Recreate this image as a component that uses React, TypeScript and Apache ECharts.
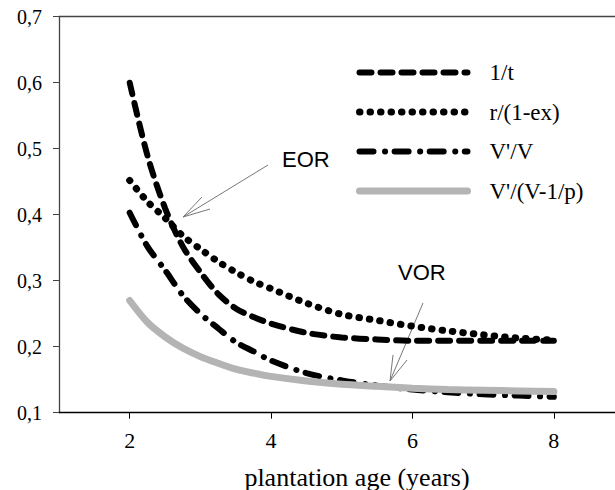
import React, { useEffect, useRef } from "react";
import * as echarts from "echarts";

const ages = [2, 2.25, 2.5, 2.75, 3, 3.25, 3.5, 3.75, 4, 4.5, 5, 5.5, 6, 6.5, 7, 7.5, 8];
const invT = [0.6, 0.49, 0.41, 0.352, 0.313, 0.28, 0.258, 0.245, 0.235, 0.221, 0.214, 0.211, 0.209, 0.209, 0.209, 0.209, 0.209];
const rEx = [0.452, 0.42, 0.395, 0.368, 0.348, 0.329, 0.313, 0.299, 0.288, 0.266, 0.249, 0.24, 0.231, 0.224, 0.218, 0.213, 0.21];
const vV = [0.403, 0.352, 0.316, 0.278, 0.25, 0.228, 0.207, 0.193, 0.179, 0.16, 0.149, 0.141, 0.135, 0.131, 0.128, 0.126, 0.124];
const vVp = [0.27, 0.237, 0.215, 0.198, 0.185, 0.175, 0.166, 0.16, 0.155, 0.148, 0.143, 0.14, 0.137, 0.135, 0.134, 0.133, 0.132];
const seriesNames = ["1/t", "r/(1-ex)", "V'/V", "V'/(V-1/p)"];
const xTicks = [2, 4, 6, 8];

const pairs = (ys: number[]) => ages.map((a, i) => [a, ys[i]]);

export default function App() {
  const ref = useRef<HTMLDivElement>(null);
  useEffect(() => {
    document.body.style.margin = "0";
    const chart = echarts.init(ref.current!, null, { renderer: "svg" });
    const serif = "'Liberation Serif', 'Times New Roman', serif";
    const sans = "'Liberation Sans', Arial, sans-serif";
    const arrow = "#777777";
    chart.setOption({
      animation: false,
      grid: { left: 59, right: 0, top: 16.7, bottom: 77.3 },
      legend: {
        orient: "vertical",
        left: 351,
        top: 56,
        itemWidth: 108,
        itemHeight: 14,
        itemGap: 16.5,
        data: seriesNames,
        textStyle: { fontFamily: serif, fontSize: 23, color: "#000", padding: [0, 0, 0, 17] },
        itemStyle: { opacity: 0 },
        lineStyle: { width: "inherit", type: "inherit", cap: "inherit" },
      },
      xAxis: [
        {
          type: "value",
          min: 1,
          max: 8.865,
          axisLine: { show: true, lineStyle: { color: "#000", width: 1.3 } },
          axisTick: { show: true, inside: false, length: 6, customValues: xTicks, lineStyle: { color: "#000" } },
          axisLabel: { customValues: xTicks, margin: 17, fontFamily: serif, fontSize: 22, color: "#000" },
          splitLine: { show: false },
        },
        {
          type: "value",
          position: "top",
          min: 1,
          max: 8.865,
          axisLine: { show: true, lineStyle: { color: "#444", width: 1.3 } },
          axisTick: { show: false },
          axisLabel: { show: false },
          splitLine: { show: false },
        },
      ],
      yAxis: {
        type: "value",
        min: 0.1,
        max: 0.7,
        interval: 0.1,
        axisLine: { show: true, lineStyle: { color: "#444", width: 1.3 } },
        axisTick: { show: true, inside: false, length: 6, lineStyle: { color: "#444" } },
        axisLabel: {
          margin: 17,
          fontFamily: serif,
          fontSize: 20,
          color: "#000",
          formatter: (v: number) => v.toFixed(1).replace(".", ","),
        },
        splitLine: { show: false },
      },
      series: [
        {
          name: seriesNames[0],
          type: "line",
          data: pairs(invT),
          smooth: 0.3,
          symbol: "none",
          color: "#000",
          lineStyle: { color: "#000", width: 6, type: [12, 9], cap: "round" },
        },
        {
          name: seriesNames[1],
          type: "line",
          data: pairs(rEx),
          smooth: 0.3,
          symbol: "none",
          color: "#000",
          lineStyle: { color: "#000", width: 7, type: [0.5, 10], cap: "round" },
        },
        {
          name: seriesNames[2],
          type: "line",
          data: pairs(vV),
          smooth: 0.3,
          symbol: "none",
          color: "#000",
          lineStyle: { color: "#000", width: 6, type: [14, 11.5, 0.1, 9.5], cap: "round" },
        },
        {
          name: seriesNames[3],
          type: "line",
          data: pairs(vVp),
          smooth: 0.3,
          symbol: "none",
          color: "#b4b4b4",
          lineStyle: { color: "#b4b4b4", width: 7, cap: "round" },
        },
      ],
      graphic: [
        {
          type: "text",
          x: 357,
          y: 477,
          style: { text: "plantation age (years)", fontFamily: serif, fontSize: 26, fill: "#000", align: "center", verticalAlign: "middle" },
        },
        {
          type: "text",
          x: 282,
          y: 159,
          style: { text: "EOR", fontFamily: sans, fontSize: 22, fill: "#000", align: "left", verticalAlign: "middle" },
        },
        {
          type: "text",
          x: 398,
          y: 272,
          style: { text: "VOR", fontFamily: sans, fontSize: 22, fill: "#000", align: "left", verticalAlign: "middle" },
        },
        { type: "line", shape: { x1: 268, y1: 165, x2: 183, y2: 217 }, style: { stroke: arrow, lineWidth: 1 } },
        { type: "line", shape: { x1: 183, y1: 217, x2: 202, y2: 197 }, style: { stroke: arrow, lineWidth: 1 } },
        { type: "line", shape: { x1: 183, y1: 217, x2: 210, y2: 209 }, style: { stroke: arrow, lineWidth: 1 } },
        { type: "line", shape: { x1: 423, y1: 303, x2: 390, y2: 381 }, style: { stroke: arrow, lineWidth: 1 } },
        { type: "line", shape: { x1: 390, y1: 381, x2: 393, y2: 355 }, style: { stroke: arrow, lineWidth: 1 } },
        { type: "line", shape: { x1: 390, y1: 381, x2: 407, y2: 360 }, style: { stroke: arrow, lineWidth: 1 } },
      ],
    });
    return () => chart.dispose();
  }, []);
  return <div ref={ref} style={{ width: 615, height: 490 }} />;
}
